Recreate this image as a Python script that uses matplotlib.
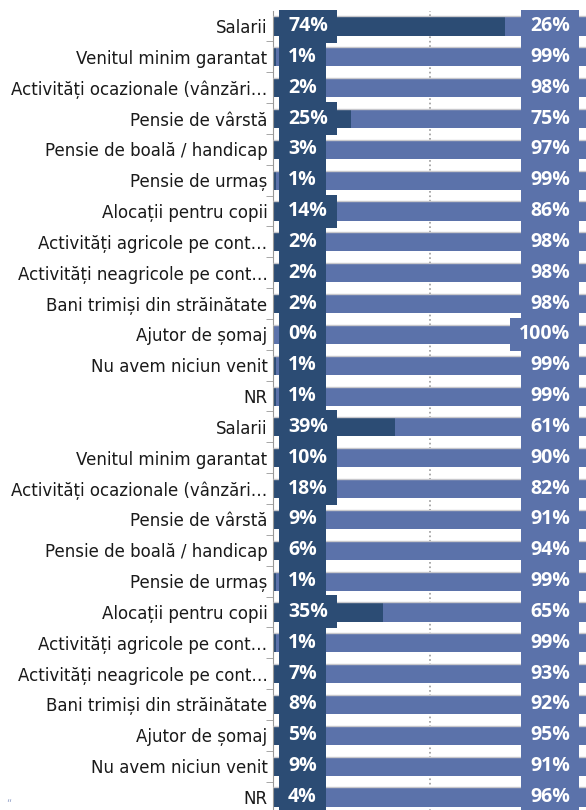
import numpy as np
import matplotlib
matplotlib.use("Agg")
import matplotlib.pyplot as plt
from matplotlib.patches import Rectangle

categories = ["Salarii", "Venitul minim garantat", "Activități ocazionale (vânzări…",
              "Pensie de vârstă", "Pensie de boală / handicap", "Pensie de urmaș",
              "Alocații pentru copii", "Activități agricole pe cont…",
              "Activități neagricole pe cont…", "Bani trimiși din străinătate",
              "Ajutor de șomaj", "Nu avem niciun venit", "NR"]
labels = categories + categories
yes_vals = [74, 1, 2, 25, 3, 1, 14, 2, 2, 2, 0, 1, 1,
            39, 10, 18, 9, 6, 1, 35, 1, 7, 8, 5, 9, 4]
no_vals = [100 - v for v in yes_vals]

DARK = "#2c4c74"
LIGHT = "#5b72aa"

fig = plt.figure(figsize=(5.86, 8.10), dpi=100)
ax = fig.add_axes([273 / 586, -2.4 / 810, 1 - 273 / 586, 801.8 / 810])

y = np.arange(len(labels))
bh = 0.62
ax.barh(y, yes_vals, height=bh, color=DARK, zorder=2)
ax.barh(y, no_vals, left=yes_vals, height=bh, color=LIGHT, zorder=2)
ax.hlines(y - bh / 2, 0, 100, color="#c8c8cc", lw=1, zorder=3)
ax.axvline(50, color="#999999", ls=":", lw=1.2, zorder=1)

ax.set_xlim(0, 100)
ax.set_ylim(len(labels) - 0.5, -0.5)
ax.set_yticks(y)
ax.set_yticklabels(labels, fontsize=12, color="#1a1a1a")
ax.tick_params(axis="y", which="major", length=0, pad=4)
ax.set_yticks(y[:-1] + 0.5, minor=True)
ax.tick_params(axis="y", which="minor", length=5, color="#999999")
ax.set_xticks([])
for s in ["top", "right", "bottom"]:
    ax.spines[s].set_visible(False)
ax.spines["left"].set_color("#999999")

# value labels with boxes sized from the rendered text
texts = []
for i in range(len(labels)):
    t1 = ax.text(4.8, i, f"{yes_vals[i]}%", ha="left", va="center", color="white",
                 fontsize=14, fontweight="bold", family="Open Sans", zorder=6)
    t2 = ax.text(94.9, i, f"{no_vals[i]}%", ha="right", va="center", color="white",
                 fontsize=14, fontweight="bold", family="Open Sans", zorder=6)
    texts.append((t1, DARK, i))
    texts.append((t2, LIGHT, i))

fig.canvas.draw()
r = fig.canvas.get_renderer()
inv = ax.transData.inverted()
for t, c, i in texts:
    bb = t.get_window_extent(r)
    yc = ax.transData.transform((0, i))[1]
    (x0, y0) = inv.transform((bb.x0 - 9, yc - 16.5))
    (x1, y1) = inv.transform((bb.x1 + 9, yc + 16.5))
    ax.add_patch(Rectangle((x0, min(y0, y1)), x1 - x0, abs(y1 - y0),
                           fc=c, ec="none", zorder=5, clip_on=False))

fig.text(0.01, 0.002, "“", color="#9aa8cc", fontsize=7, va="bottom")

fig.savefig("out.png", dpi=100)
